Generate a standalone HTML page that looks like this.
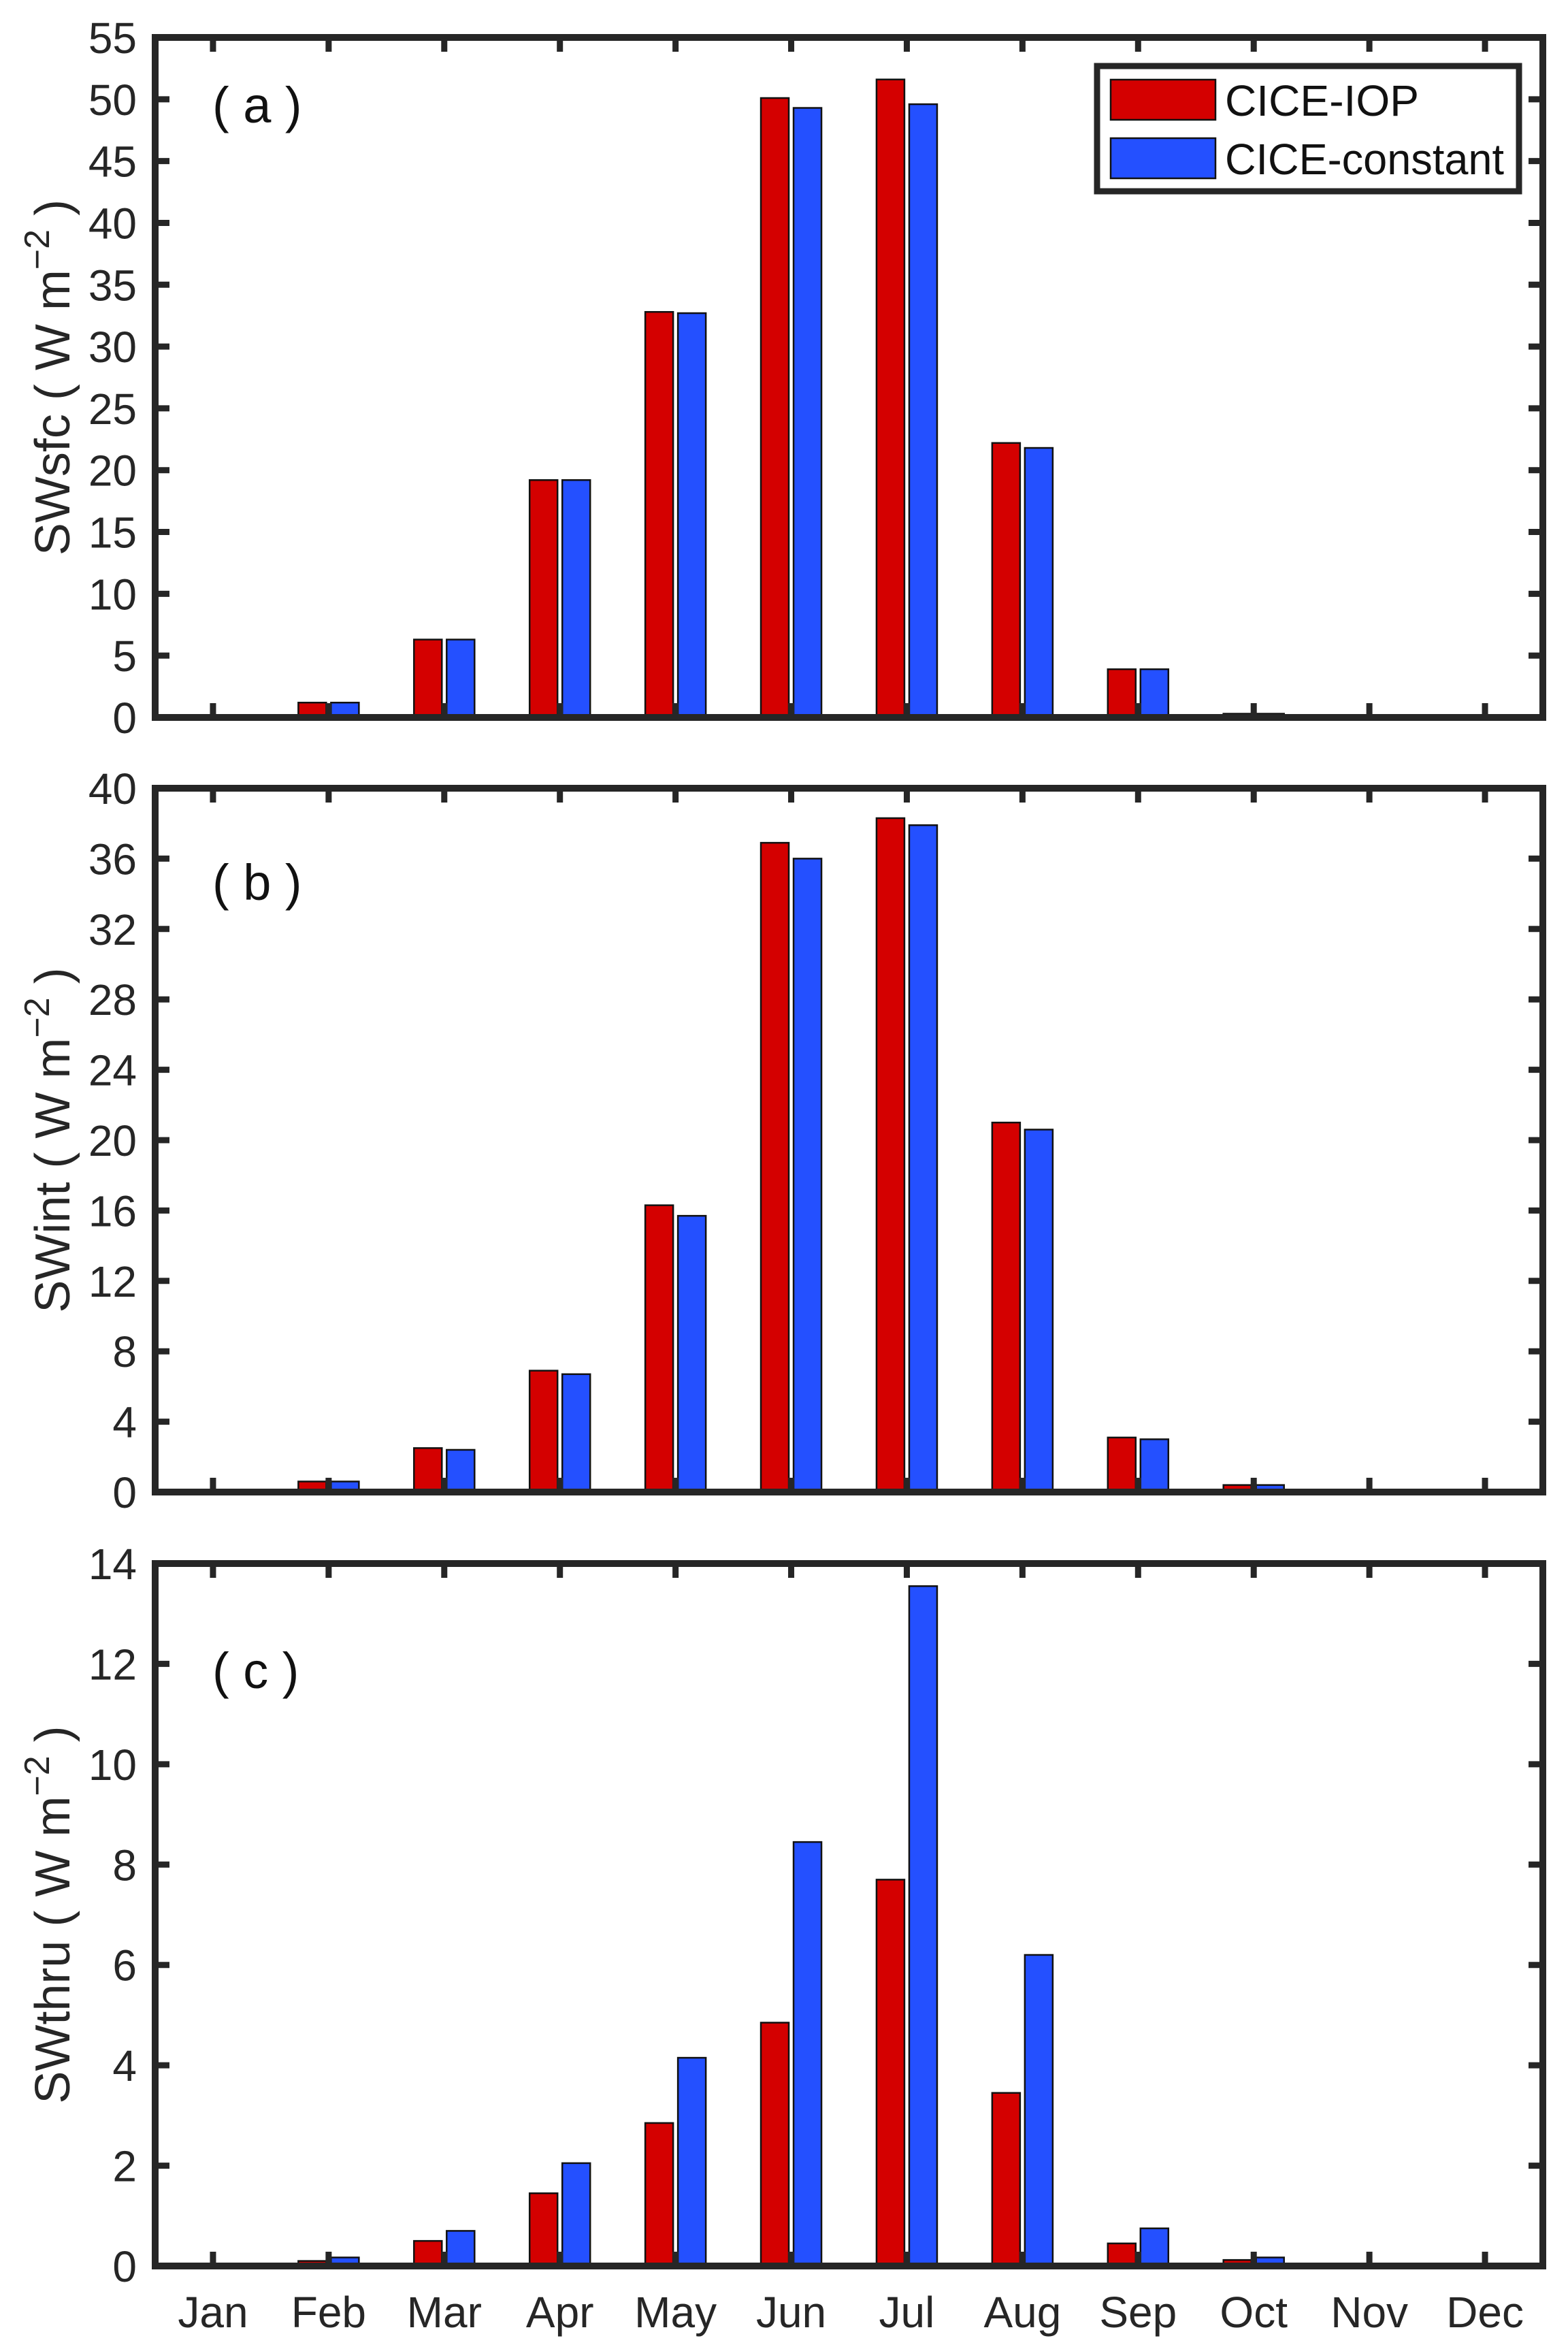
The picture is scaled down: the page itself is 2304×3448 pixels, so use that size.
<!DOCTYPE html>
<html><head><meta charset="utf-8"><style>
html,body{margin:0;padding:0;background:#fff;}
svg{display:block;font-family:"Liberation Sans",Arial,sans-serif;}
</style></head><body>
<svg id="fig" width="2304" height="3448" viewBox="0 0 2304 3448" xmlns="http://www.w3.org/2000/svg">
<rect width="2304" height="3448" fill="#fff"/>
</svg>
<script>
const months = ["Jan","Feb","Mar","Apr","May","Jun","Jul","Aug","Sep","Oct","Nov","Dec"];
const seriesNames = ["CICE-IOP","CICE-constant"];
const swsfcIOP = [0.1,1.2,6.3,19.2,32.8,50.1,51.6,22.2,3.9,0.3,0,0];
const swsfcConst = [0.1,1.2,6.3,19.2,32.7,49.3,49.6,21.8,3.9,0.3,0,0];
const swintIOP = [0,0.6,2.5,6.9,16.3,36.9,38.3,21.0,3.1,0.4,0,0];
const swintConst = [0,0.6,2.4,6.7,15.7,36.0,37.9,20.6,3.0,0.4,0,0];
const swthruIOP = [0,0.1,0.5,1.45,2.85,4.85,7.7,3.45,0.45,0.12,0,0];
const swthruConst = [0,0.17,0.7,2.05,4.15,8.45,13.55,6.2,0.75,0.17,0,0];
const ticksA = [0,5,10,15,20,25,30,35,40,45,50,55];
const ticksB = [0,4,8,12,16,20,24,28,32,36,40];
const ticksC = [0,2,4,6,8,10,12,14];

const NS="http://www.w3.org/2000/svg";
const svg=document.getElementById('fig');
function mk(tag,attrs,parent){const e=document.createElementNS(NS,tag);for(const k in attrs)e.setAttribute(k,attrs[k]);(parent||svg).appendChild(e);return e;}
const L=228,R=2267,AX="#262626",RED="#d40000",BLUE="#2450ff";
const xScale=i=>L+(i+0.5)*(R-L)/12;
const panels=[
 {key:"a",top:55,bot:1054,max:55,ticks:ticksA,s1:swsfcIOP,s2:swsfcConst,name:"SWsfc",label:"( a )",ly:180},
 {key:"b",top:1158,bot:2192,max:40,ticks:ticksB,s1:swintIOP,s2:swintConst,name:"SWint",label:"( b )",ly:1322},
 {key:"c",top:2297,bot:3329,max:14,ticks:ticksC,s1:swthruIOP,s2:swthruConst,name:"SWthru",label:"( c )",ly:2480}
];
panels.forEach(p=>{
 const g=mk('g',{});
 
 
 const y=v=>p.bot-(v/p.max)*(p.bot-p.top);
 const bw=41, off=24;
 const data=[[p.s1,RED,-off,"iop"],[p.s2,BLUE,off,"constant"]];
 data.forEach(([arr,col,o,nm])=>{
  arr.forEach((v,i)=>{
   const cx=xScale(i)+o; const yy=y(v);
   const r=mk('rect',{x:cx-bw/2,y:yy,width:bw,height:Math.max(p.bot-yy,0.5),fill:col,stroke:"#111",'stroke-width':2.5},g);
   
   
  });
 });
 const tk=mk('g',{stroke:AX,'stroke-width':9},g);
 
 
 months.forEach((m,i)=>{
  const x=xScale(i);
  mk('line',{x1:x,x2:x,y1:p.bot,y2:p.bot-21},tk);
  mk('line',{x1:x,x2:x,y1:p.top,y2:p.top+21},tk);
 });
 p.ticks.forEach(t=>{
  const yy=y(t);
  mk('line',{x1:L,x2:L+21,y1:yy,y2:yy},tk);
  mk('line',{x1:R,x2:R-21,y1:yy,y2:yy},tk);
  const tl=mk('text',{x:201,y:yy+23,'text-anchor':'end','font-size':64,fill:AX},g);
  tl.textContent=t;
  
  
 });
 const fr=mk('rect',{x:L,y:p.top,width:R-L,height:p.bot-p.top,fill:'none',stroke:AX,'stroke-width':10},g);
 
 
 const pl=mk('text',{x:312,y:p.ly,'font-size':74,fill:"#111"},g);
 pl.textContent=p.label;
 
 
 const cy=(p.top+p.bot)/2;
 const yt=mk('text',{x:0,y:0,'text-anchor':'middle','font-size':72,fill:AX,transform:`translate(102,${cy}) rotate(-90)`},g);
 
 
 yt.appendChild(document.createTextNode(p.name+" ( W m"));
 const sup=mk('tspan',{dy:-30,'font-size':52},yt); sup.textContent="\u22122";
 const rest=mk('tspan',{dy:30},yt); rest.textContent=" )";
});
months.forEach((m,i)=>{
 const t=mk('text',{x:xScale(i),y:3419,'text-anchor':'middle','font-size':64,fill:AX});
 t.textContent=m;
 
 
});
const lg=mk('g',{});


mk('rect',{x:1612,y:97,width:620,height:184,fill:'#fff',stroke:AX,'stroke-width':9},lg);
[[RED,117,seriesNames[0]],[BLUE,203,seriesNames[1]]].forEach(([c,yy,n],k)=>{
 const sw=mk('rect',{x:1632,y:yy,width:154,height:59,fill:c,stroke:"#111",'stroke-width':2.5},lg);
 
 
 const t=mk('text',{x:1800,y:yy+53,'font-size':64,fill:"#111",textLength:(k?410:285),lengthAdjust:'spacingAndGlyphs'},lg);
 t.textContent=n;
 
 
});
</script>
</body></html>
